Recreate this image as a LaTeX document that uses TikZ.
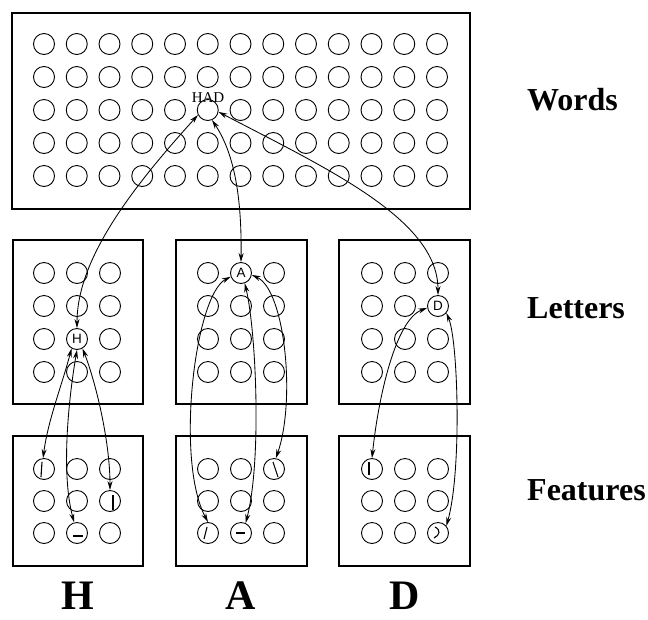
\documentclass[tikz,border=0pt]{standalone}
\usepackage{fontspec}
\setmainfont{Liberation Serif}
\setsansfont{Liberation Sans}
\usetikzlibrary{arrows.meta}
\begin{document}
\begin{tikzpicture}[x=1pt,y=-1pt,
  unit/.style={circle,draw,line width=0.9pt,minimum size=21pt,inner sep=0pt},
  panel/.style={draw,line width=1.1pt},
  link/.style={line width=0.85pt,{Stealth[length=9pt,width=5pt]}-{Stealth[length=9pt,width=5pt]}},
  feat/.style={line width=1.1pt},
  level/.style={font=\bfseries\fontsize{32}{32}\selectfont,anchor=base west,inner sep=0pt},
  big/.style={font=\bfseries\fontsize{42}{42}\selectfont,anchor=base,inner sep=0pt},
  inlab/.style={font=\sffamily\fontsize{13.5}{13.5}\selectfont},
  hadlab/.style={font=\fontsize{15}{15}\selectfont,anchor=base}
]
\useasboundingbox (0,0) rectangle (648,619);

% panels
\draw[panel] (12,13) rectangle (470,209);
\draw[panel] (13,240) rectangle (143,404);
\draw[panel] (176,240) rectangle (307,404);
\draw[panel] (339,240) rectangle (470,404);
\draw[panel] (13,436) rectangle (143,566);
\draw[panel] (176,436) rectangle (307,566);
\draw[panel] (339,436) rectangle (470,566);

% word units
\foreach \c in {0,...,12}
  \foreach \r in {0,...,4}
    \node[unit] (w\c-\r) at ({44+32.75*\c},{44+33*\r}) {};
\node[hadlab] (had) at (208,102) {HAD};

% letter units
\foreach \b/\x in {1/44,2/208,3/372}
  \foreach \c in {0,1,2}
    \foreach \r in {0,...,3}
      \node[unit] (l\b-\c-\r) at ({\x+33*\c},{273+33*\r}) {};
\node[inlab] (hl) at (l1-1-2) {H};
\node[inlab] (al) at (l2-1-0) {A};
\node[inlab] (dl) at (l3-2-1) {D};

% feature units
\foreach \b/\x in {1/44,2/208,3/372}
  \foreach \c in {0,1,2}
    \foreach \r in {0,1,2}
      \node[unit] (f\b-\c-\r) at ({\x+33*\c},{469+32*\r}) {};

% feature marks
\draw[feat] ([shift={(-2,-7)}]f1-0-0.center) -- ([shift={(-3,8)}]f1-0-0.center);
\draw[feat] ([shift={(3,-6)}]f1-2-1.center) -- ([shift={(3,9)}]f1-2-1.center);
\draw[feat] ([shift={(-4,3)}]f1-1-2.center) -- ([shift={(6,3)}]f1-1-2.center);
\draw[feat] ([shift={(-1,-7)}]f2-2-0.center) -- ([shift={(4,8)}]f2-2-0.center);
\draw[feat] ([shift={(-1,-6)}]f2-0-2.center) -- ([shift={(-4,6)}]f2-0-2.center);
\draw[feat] ([shift={(-5,0)}]f2-1-2.center) -- ([shift={(4,0)}]f2-1-2.center);
\draw[feat] ([shift={(-3,-7)}]f3-0-0.center) -- ([shift={(-3,6)}]f3-0-0.center);
\draw[feat] ([shift={(-3,-6)}]f3-2-2.center) .. controls ([shift={(3,-3)}]f3-2-2.center) and ([shift={(2,2)}]f3-2-2.center) .. ([shift={(-4,5)}]f3-2-2.center);

% word-letter links
\draw[link] (w5-2.207) .. controls (130,190) and (77,260) .. (l1-1-2.90);
\draw[link] (w5-2.293) .. controls (232,150) and (242,190) .. (l2-1-0.90);
\draw[link] (w5-2.350) .. controls (330,170) and (438,220) .. (l3-2-1.90);

% letter-feature links
\draw[link] (l1-1-2.240) .. controls (62,385) and (48,420) .. (f1-0-0.95);
\draw[link] (l1-1-2.270) .. controls (70,390) and (60,470) .. (f1-1-2.105);
\draw[link] (l1-1-2.300) .. controls (95,380) and (110,440) .. (f1-2-1.90);
\draw[link] (l2-1-0.200) .. controls (195,295) and (175,460) .. (f2-0-2.90);
\draw[link] (l2-1-0.290) .. controls (256,330) and (262,460) .. (f2-1-2.65);
\draw[link] (l2-1-0.350) .. controls (285,290) and (296,400) .. (f2-2-0.80);
\draw[link] (l3-2-1.190) .. controls (395,320) and (378,400) .. (f3-0-0.90);
\draw[link] (l3-2-1.320) .. controls (458,340) and (462,470) .. (f3-2-2.40);

% level labels
\node[level] (words) at (527,110) {Words};
\node[level] (letters) at (527,318) {Letters};
\node[level] (features) at (527,500) {Features};

% big letters
\node[big] (bigH) at (78,609) {H};
\node[big] (bigA) at (241,609) {A};
\node[big] (bigD) at (405,609) {D};
\end{tikzpicture}
\end{document}
